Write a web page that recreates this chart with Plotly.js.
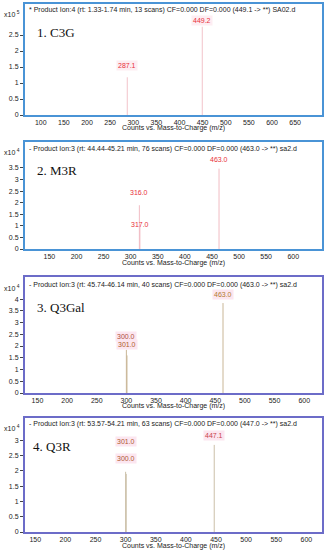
<!DOCTYPE html>
<html><head><meta charset="utf-8">
<script src="https://cdn.plot.ly/plotly-3.0.1.min.js"></script>
<style>html,body{margin:0;padding:0;background:#fff}#chart{width:326px;height:550px}</style>
</head><body><div id="chart"></div>
<script>
// ---------- DATA ----------
const panelNames = ["1. C3G", "2. M3R", "3. Q3Gal", "4. Q3R"];
const headers = [
  "* Product Ion:4 (rt: 1.33-1.74 min, 13 scans) CF=0.000 DF=0.000 (449.1 -> **) SA02.d",
  "- Product Ion:3 (rt: 44.44-45.21 min, 76 scans) CF=0.000 DF=0.000 (463.0 -> **) sa2.d",
  "- Product Ion:3 (rt: 45.74-46.14 min, 40 scans) CF=0.000 DF=0.000 (463.0 -> **) sa2.d",
  "- Product Ion:3 (rt: 53.57-54.21 min, 63 scans) CF=0.000 DF=0.000 (447.0 -> **) sa2.d"
];
const scaleExp = [5, 4, 4, 4];
const xTitle = "Counts vs. Mass-to-Charge (m/z)";

// peaks: m/z and intensity (in units of 10^scaleExp counts)
const mz1 = [287.1, 449.2];
const int1 = [1.18, 2.76];
const mz2 = [316.0, 317.0, 463.0];
const int2 = [1.89, 0.95, 3.47];
const mz3 = [300.0, 301.0, 463.0];
const int3 = [1.84, 1.60, 3.83];
const mz4 = [301.0, 300.0, 447.1];
const int4 = [1.90, 1.97, 2.85];

const xTicks1 = [100, 150, 200, 250, 300, 350, 400, 450, 500, 550, 600, 650];
const xTicks2 = [150, 200, 250, 300, 350, 400, 450, 500, 550, 600];
const xTicks3 = [150, 200, 250, 300, 350, 400, 450, 500, 550, 600];
const xTicks4 = [150, 200, 250, 300, 350, 400, 450, 500, 550, 600];
const yTicks1 = [0, 0.5, 1, 1.5, 2, 2.5];
const yTicks2 = [0, 0.5, 1, 1.5, 2, 2.5, 3, 3.5];
const yTicks3 = [0, 0.5, 1, 1.5, 2, 2.5, 3, 3.5, 4];
const yTicks4 = [0, 0.5, 1, 1.5, 2, 2.5, 3];

// ---------- STYLE / LAYOUT ----------
const W = 326, H = 550;
const sans = "Liberation Sans, Arial, sans-serif";
const serif = "Liberation Serif, Times New Roman, serif";
const data = [[mz1, int1], [mz2, int2], [mz3, int3], [mz4, int4]];
const xt = [xTicks1, xTicks2, xTicks3, xTicks4];
const yt = [yTicks1, yTicks2, yTicks3, yTicks4];
const panels = [
  {top: 4, bottom: 115, xr: [66, 708], yr: [0, 3.47], frame: "#4a94d6", line: "#f3c4ca",
   lab: ["#e8303a", "#e8303a"], bg: "rgba(252,230,236,0.7)", shifts: [12, 6],
   hdrY: 10, nameY: 32, nameX: 35, expY: 14, titleY: 128},
  {top: 142, bottom: 249, xr: [105, 653], yr: [0, 4.62], frame: "#4a94d6", line: "#f1bcc4",
   lab: ["#e8303a", "#e8303a", "#e8303a"], bg: "rgba(0,0,0,0)", shifts: [12.5, 3, 9],
   hdrY: 149, nameY: 170, nameX: 35, expY: 152, titleY: 263},
  {top: 277, bottom: 393, xr: [129, 630], yr: [0, 4.94], frame: "#6c6cc8", line: "#c9b696",
   lab: ["#b0503a", "#b0602a", "#b07a30"], bg: "#fce6f0", shifts: [13.3, 11, 9],
   hdrY: 285, nameY: 307, nameX: 35, expY: 288, titleY: 406},
  {top: 418, bottom: 532, xr: [133, 626], yr: [0, 3.73], frame: "#6c6cc8", line: "#cbbfa8",
   lab: ["#b05a30", "#b05a30", "#c8404a"], bg: "#fce6f0", shifts: [32, 12.8, 9.3],
   hdrY: 424, nameY: 446, nameX: 31, expY: 428, titleY: 546}
];

const traces = [];
const annotations = [];
const layout = {
  width: W, height: H,
  margin: {l: 0, r: 0, t: 0, b: 0},
  paper_bgcolor: "#ffffff", plot_bgcolor: "#ffffff",
  showlegend: false,
  font: {family: sans, size: 7, color: "#222"},
  annotations: annotations
};

panels.forEach((p, i) => {
  const n = i + 1;
  const xa = n === 1 ? "xaxis" : "xaxis" + n;
  const ya = n === 1 ? "yaxis" : "yaxis" + n;
  const xref = n === 1 ? "x" : "x" + n;
  const yref = n === 1 ? "y" : "y" + n;
  const [mz, inten] = data[i];
  const xs = [], ys = [];
  mz.forEach((m, k) => { xs.push(m, m, null); ys.push(0, inten[k], null); });
  traces.push({type: "scatter", mode: "lines", x: xs, y: ys, xaxis: xref, yaxis: yref,
    line: {color: p.line, width: 1}, hoverinfo: "skip"});
  layout[xa] = {
    domain: [25 / W, 322 / W], anchor: yref, range: p.xr,
    tickvals: xt[i], ticktext: xt[i].map(String),
    showgrid: false, zeroline: false, ticks: "", tickfont: {size: 7, color: "#222"},
    showline: true, mirror: true, linewidth: 2, linecolor: p.frame
  };
  layout[ya] = {
    domain: [1 - p.bottom / H, 1 - p.top / H], anchor: xref, range: p.yr,
    tickvals: yt[i], ticktext: yt[i].map(String),
    showgrid: false, zeroline: false, ticks: "outside", ticklen: 3, tickcolor: "#444",
    tickfont: {size: 7, color: "#222"},
    showline: true, mirror: true, linewidth: 2, linecolor: p.frame
  };
  // peak labels
  mz.forEach((m, k) => {
    annotations.push({xref: xref, yref: yref, x: m, y: inten[k], yanchor: "middle", xanchor: "center",
      yshift: p.shifts[k], text: m.toFixed(1), showarrow: false,
      font: {family: sans, size: 7, color: p.lab[k]}, bgcolor: p.bg, borderpad: 1});
  });
  // header
  annotations.push({xref: "paper", yref: "paper", x: 27 / W, y: 1 - p.hdrY / H, xanchor: "left",
    yanchor: "middle", text: headers[i], showarrow: false, font: {family: sans, size: 7, color: "#222"}});
  // exponent
  annotations.push({xref: "paper", yref: "paper", x: 22 / W, y: 1 - p.expY / H, xanchor: "right",
    yanchor: "middle", text: "x10<sup> " + scaleExp[i] + "</sup>", showarrow: false,
    font: {family: sans, size: 7, color: "#222"}});
  // panel name
  annotations.push({xref: "paper", yref: "paper", x: p.nameX / W, y: 1 - p.nameY / H, xanchor: "left",
    yanchor: "middle", text: panelNames[i], showarrow: false,
    font: {family: serif, size: 13, color: "#111"}});
  // x axis title
  annotations.push({xref: "paper", yref: "paper", x: 173 / W, y: 1 - p.titleY / H, xanchor: "center",
    yanchor: "middle", text: xTitle, showarrow: false, font: {family: sans, size: 7, color: "#222"}});
});

Plotly.newPlot("chart", traces, layout, {displayModeBar: false, staticPlot: true});
</script></body></html>
